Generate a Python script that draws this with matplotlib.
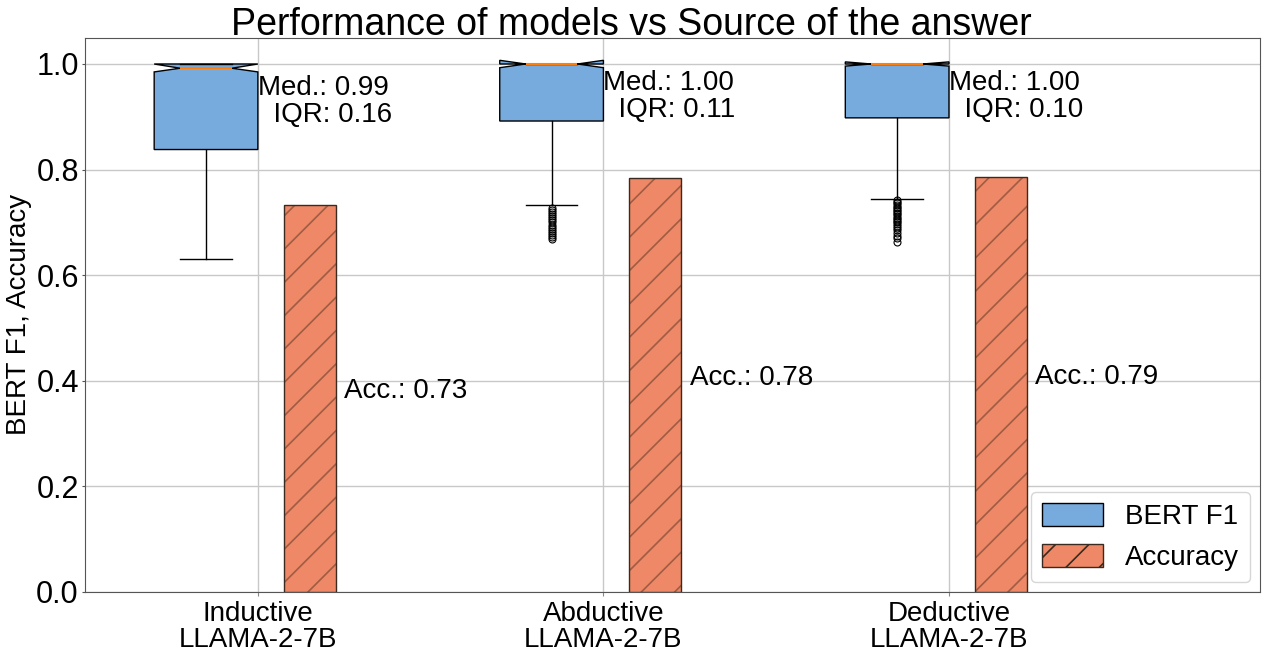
import matplotlib

matplotlib.use("Agg")
import matplotlib.pyplot as plt
from matplotlib.patches import Patch
import numpy as np

plt.rcParams["font.family"] = ["Liberation Sans", "DejaVu Sans"]
plt.rcParams["hatch.linewidth"] = 1.2

CATEGORIES = ["Inductive\nLLAMA-2-7B", "Abductive\nLLAMA-2-7B", "Deductive\nLLAMA-2-7B"]

# BERT F1 box stats
MEDIANS = [0.992, 1.0, 1.0]
Q1 = [0.838, 0.892, 0.898]
Q3 = [1.0, 1.0, 1.0]
WHISLO = [0.631, 0.733, 0.745]
WHISHI = [1.0, 1.0, 1.0]
CILO = [0.985, 0.993, 0.996]
CIHI = [1.0, 1.007, 1.004]
IQR_LABELS = [0.16, 0.11, 0.10]
FLIERS = [
    [],
    [0.728, 0.724, 0.720, 0.716, 0.712, 0.708, 0.704, 0.700, 0.696, 0.692,
     0.688, 0.684, 0.680, 0.676, 0.672, 0.668],
    [0.742, 0.739, 0.736, 0.733, 0.730, 0.727, 0.724, 0.721, 0.718, 0.715,
     0.712, 0.709, 0.706, 0.703, 0.700, 0.697, 0.694, 0.690, 0.685, 0.680,
     0.675, 0.670, 0.662],
]

ACCURACY = [0.733, 0.784, 0.786]
ACC_LABELS = [0.73, 0.78, 0.79]

BLUE = "#77AADD"
ORANGE = "#EE8866"
HATCH = (0.25, 0.15, 0.1, 0.45)

fig = plt.figure(figsize=(12.62, 6.55), dpi=100)
ax = fig.add_axes([0.0674, 0.0962, 0.931, 0.8464])

x = np.arange(len(CATEGORIES))
stats = []
for i in range(len(CATEGORIES)):
    stats.append(dict(med=MEDIANS[i], q1=Q1[i], q3=Q3[i], whislo=WHISLO[i],
                      whishi=WHISHI[i], cilo=CILO[i], cihi=CIHI[i],
                      fliers=FLIERS[i]))

ax.bxp(stats, positions=x - 0.15, widths=0.3, shownotches=True, patch_artist=True,
       boxprops=dict(facecolor=BLUE, edgecolor="black", linewidth=1),
       medianprops=dict(color="#ff7f0e", linewidth=1.5),
       whiskerprops=dict(color="black", linewidth=1),
       capprops=dict(color="black", linewidth=1),
       flierprops=dict(marker="o", markersize=5, markerfacecolor="none",
                       markeredgecolor="black", markeredgewidth=0.8),
       manage_ticks=False, zorder=3)

# filled bar, then a faint hatch overlay, then the dark outline
ax.bar(x + 0.15, ACCURACY, width=0.15, color=ORANGE, linewidth=0, zorder=3)
ax.bar(x + 0.15, ACCURACY, width=0.15, facecolor="none", edgecolor=HATCH,
       hatch="/", linewidth=0, zorder=3)
ax.bar(x + 0.15, ACCURACY, width=0.15, facecolor="none", edgecolor="#3a2a20",
       linewidth=1, zorder=3)

for i in range(len(CATEGORIES)):
    ax.text(x[i], MEDIANS[i] - 0.012,
            f"Med.: {MEDIANS[i]:.2f}\n  IQR: {IQR_LABELS[i]:.2f}",
            ha="left", va="top", fontsize=20, linespacing=1.05, zorder=4)
    ax.text(x[i] + 0.25, ACCURACY[i] / 2, f"Acc.: {ACC_LABELS[i]:.2f}",
            ha="left", va="baseline", fontsize=20, zorder=4)

ax.set_xlim(-0.5, 2.9)
ax.set_ylim(0, 1.05)
ax.set_xticks(x)
ax.set_xticklabels(CATEGORIES, fontsize=20, linespacing=1.0)
ax.set_yticks([0.0, 0.2, 0.4, 0.6, 0.8, 1.0])
ax.tick_params(axis="y", labelsize=22, length=2.5, pad=2, color="#555555")
ax.tick_params(axis="x", length=3, color="#888888")
ax.set_ylabel("BERT F1, Accuracy", fontsize=20, labelpad=3)
fig.text(0.5, 0.99, "Performance of models vs Source of the answer",
         ha="center", va="top", fontsize=27)
ax.grid(True, color="#c8c8c8", linewidth=1, zorder=0)
ax.set_axisbelow(True)
for s in ax.spines.values():
    s.set_color("#555555")

handles = [Patch(facecolor=BLUE, edgecolor="black", label="BERT F1"),
           Patch(facecolor=ORANGE, edgecolor="#3a2a20", hatch="/", label="Accuracy")]
ax.legend(handles=handles, loc="lower right", fontsize=20, handlelength=2.2,
          handleheight=0.9, borderaxespad=0.35)

fig.savefig("out.png", dpi=100)
